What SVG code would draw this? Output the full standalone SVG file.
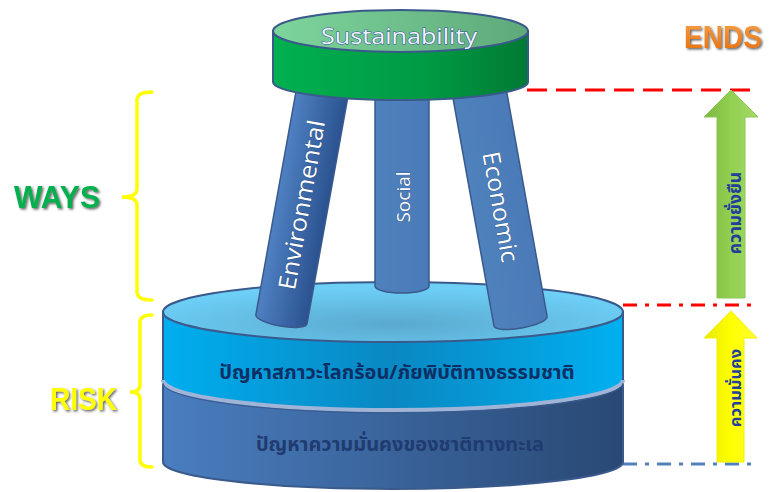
<svg xmlns="http://www.w3.org/2000/svg" width="775" height="492" viewBox="0 0 775 492">
<defs>
<linearGradient id="gBody" x1="0" x2="1" y1="0" y2="0"><stop offset="0" stop-color="#00b050"/><stop offset="0.6" stop-color="#009a44"/><stop offset="1" stop-color="#007a33"/></linearGradient>
<linearGradient id="gTop" x1="0" x2="1" y1="0" y2="0"><stop offset="0" stop-color="#7dd59c"/><stop offset="1" stop-color="#5fa97a"/></linearGradient>
<linearGradient id="gLegL" x1="0" x2="1" y1="0" y2="0"><stop offset="0" stop-color="#4f81c2"/><stop offset="1" stop-color="#2b5290"/></linearGradient>
<linearGradient id="gLeg" x1="0" x2="1" y1="0" y2="0"><stop offset="0" stop-color="#4f81bd"/><stop offset="1" stop-color="#4a7bb8"/></linearGradient>
<linearGradient id="gUpper" x1="0" x2="1" y1="0" y2="0"><stop offset="0" stop-color="#00aeef"/><stop offset="0.5" stop-color="#0a88c2"/><stop offset="1" stop-color="#00b0f0"/></linearGradient>
<linearGradient id="gLower" x1="0" x2="1" y1="0" y2="0"><stop offset="0" stop-color="#4a7ec0"/><stop offset="1" stop-color="#294874"/></linearGradient>
<radialGradient id="gFace" cx="0.5" cy="0.7" r="0.6"><stop offset="0" stop-color="#5aa9cf"/><stop offset="1" stop-color="#6dcff6"/></radialGradient>
<linearGradient id="gGreenArr" x1="0" x2="1" y1="0" y2="0"><stop offset="0" stop-color="#7cb743"/><stop offset="0.5" stop-color="#92d050"/><stop offset="1" stop-color="#a4d96a"/></linearGradient>
<linearGradient id="gYellowArr" x1="0" x2="1" y1="0" y2="0"><stop offset="0" stop-color="#e8e800"/><stop offset="0.5" stop-color="#ffff00"/><stop offset="1" stop-color="#ffff30"/></linearGradient>
<linearGradient id="gEnds" x1="0" x2="0" y1="0" y2="1"><stop offset="0" stop-color="#f7a24a"/><stop offset="1" stop-color="#e46c0a"/></linearGradient>
<filter id="sh" x="-20%" y="-20%" width="140%" height="140%"><feDropShadow dx="1.5" dy="1.5" stdDeviation="0.8" flood-color="#404040" flood-opacity="0.8"/></filter>
</defs>
<style>
.edge{stroke:#3a5a8c;stroke-width:2}
.big{font-family:"Liberation Sans",Arial,sans-serif;font-weight:bold;font-size:32px}
.leg{font-family:"Open Sans","Liberation Sans",sans-serif;fill:#ffffff;stroke:#1f3f70;stroke-width:0.6;paint-order:stroke}
.thai{font-family:"Noto Sans Thai","Leelawadee UI",Tahoma,"Liberation Sans",sans-serif;font-weight:bold}
.brace{fill:none;stroke:#ffff00;stroke-width:3.5;stroke-linecap:round}
</style>

<g id="connectors">
<line x1="527" y1="90" x2="752" y2="90" stroke="#ff0000" stroke-width="3" stroke-dasharray="20 9"/>
<line x1="623" y1="305" x2="752" y2="305" stroke="#ff0000" stroke-width="3" stroke-dasharray="14 8 4 8"/>
<line x1="623" y1="464" x2="752" y2="464" stroke="#4f81bd" stroke-width="3" stroke-dasharray="14 8 4 8"/>
</g>

<g id="base">
<path d="M163,380 L163,462 A230,27 0 0 0 623,462 L623,380 Z" fill="url(#gLower)" class="edge"/>
<path d="M163,312 L163,380 A230,30 0 0 0 623,380 L623,312 Z" fill="url(#gUpper)" class="edge"/>
<path d="M163,380 A230,30 0 0 0 623,380" fill="none" stroke="#9fb4d6" stroke-width="4"/>
<path d="M163,383 A230,30 0 0 0 623,383" fill="none" stroke="#3a5a8c" stroke-width="1"/>
<ellipse cx="393" cy="312" rx="230" ry="30" fill="url(#gFace)" class="edge"/>
<text x="397" y="379" text-anchor="middle" class="thai" font-size="20" fill="#0e2f66">ปัญหาสภาวะโลกร้อน/ภัยพิบัติทางธรรมชาติ</text>
<text x="400" y="451" text-anchor="middle" class="thai" font-size="20" fill="#1f3b70">ปัญหาความมั่นคงของชาติทางทะเล</text>
</g>

<g id="leg-social">
<path d="M375,85 L375,286 A27,7 0 0 0 429,286 L429,85 Z" fill="url(#gLeg)" stroke="#3a5a8c" stroke-width="1.5"/>
<text transform="translate(410,197) rotate(-90)" text-anchor="middle" class="leg" font-size="19">Social</text>
</g>

<g id="leg-environmental">
<g transform="translate(302,205) rotate(10.2)">
<path d="M-26,-125 L-26,116 A26,7 0 0 0 26,116 L26,-125 Z" fill="url(#gLegL)" stroke="#3a5a8c" stroke-width="1.5"/>
<text transform="rotate(-90)" x="0" y="8" text-anchor="middle" class="leg" font-size="24" textLength="172" lengthAdjust="spacingAndGlyphs">Environmental</text>
</g>
</g>

<g id="leg-economic">
<g transform="translate(500,207) rotate(-10.2)">
<path d="M-27,-125 L-27,116 A27,7 0 0 0 27,116 L27,-125 Z" fill="url(#gLeg)" stroke="#3a5a8c" stroke-width="1.5"/>
<text transform="rotate(90)" x="0" y="8" text-anchor="middle" class="leg" font-size="24" textLength="112" lengthAdjust="spacingAndGlyphs">Economic</text>
</g>
</g>

<g id="top">
<path d="M273,31 L273,82 A127.5,18 0 0 0 528,82 L528,31 Z" fill="url(#gBody)" class="edge"/>
<ellipse cx="400.5" cy="31" rx="127.5" ry="21" fill="url(#gTop)" class="edge"/>
<text x="399" y="44" text-anchor="middle" font-family="'Open Sans','Liberation Sans',sans-serif" font-size="22" fill="#eef3fb" stroke="#2f5597" stroke-width="1" paint-order="stroke" textLength="156" lengthAdjust="spacingAndGlyphs">Sustainability</text>
</g>

<g id="braces">
<path class="brace" d="M152,92 Q137,92 137,100 L137,189 Q137,197 122,197 Q137,197 137,205 L137,292 Q137,300 152,300"/>
<path class="brace" d="M152,315 Q140,315 140,322 L140,385 Q140,392 130,392 Q140,392 140,399 L140,460 Q140,467 152,467"/>
</g>

<g id="label-ways"><text x="14" y="208" class="big" fill="#00b050" filter="url(#sh)" textLength="86" lengthAdjust="spacingAndGlyphs">WAYS</text></g>
<g id="label-risk"><text x="50" y="410" class="big" fill="#ffff00" filter="url(#sh)" textLength="67" lengthAdjust="spacingAndGlyphs">RISK</text></g>
<g id="label-ends"><text x="684" y="48" class="big" fill="url(#gEnds)" filter="url(#sh)" textLength="78" lengthAdjust="spacingAndGlyphs">ENDS</text></g>

<g id="arrow-green">
<polygon points="731,90 758,117 745,117 745,298 717,298 717,117 704,117" fill="url(#gGreenArr)" stroke="#8cc653" stroke-width="1"/>
<text transform="translate(741,213) rotate(-90)" text-anchor="middle" class="thai" font-size="17.5" font-weight="normal" fill="#1f3f99">ความยั่งยืน</text>
</g>

<g id="arrow-yellow">
<polygon points="731,311 757,338 744,338 744,462 717,462 717,338 704,338" fill="url(#gYellowArr)" stroke="#f0f000" stroke-width="1"/>
<text transform="translate(741,388) rotate(-90)" text-anchor="middle" class="thai" font-size="16.5" font-weight="normal" fill="#1f3f99">ความมั่นคง</text>
</g>
</svg>
